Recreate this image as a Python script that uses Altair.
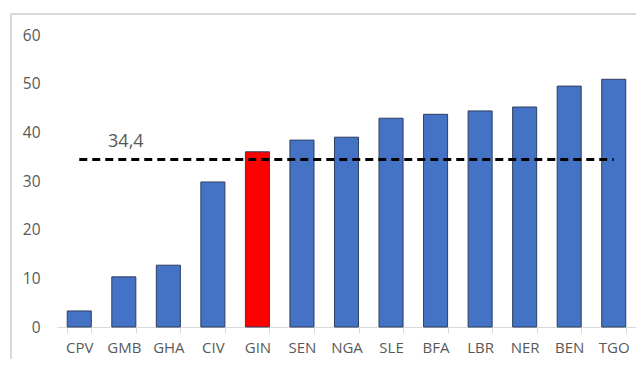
import altair as alt
import pandas as pd

countries = ["CPV", "GMB", "GHA", "CIV", "GIN", "SEN", "NGA", "SLE", "BFA", "LBR", "NER", "BEN", "TGO"]
values = [3.3, 10.3, 12.7, 29.8, 36.0, 38.4, 39.0, 42.9, 43.7, 44.4, 45.2, 49.5, 50.9]
highlight = "GIN"
average = 34.4
average_label = "34,4"
label_at = "GMB"

df = pd.DataFrame({"country": countries, "value": values,
                   "hl": [c == highlight for c in countries],
                   "avg": [average] * len(countries)})

x = alt.X("country:N", sort=countries, title=None,
          scale=alt.Scale(paddingInner=0.46, paddingOuter=0.23),
          axis=alt.Axis(labelAngle=0, labelFontSize=15, labelColor="#595959", labelFont="Open Sans",
                        domainColor="#d9d9d9", tickColor="#d9d9d9", tickSize=6, tickBand="extent",
                        labelPadding=7))
y = alt.Y("value:Q", title=None, scale=alt.Scale(domain=[0, 60], nice=False),
          axis=alt.Axis(values=[0, 10, 20, 30, 40, 50, 60], grid=False, domain=False, ticks=False,
                        labelFontSize=15.5, labelColor="#595959", labelFont="Open Sans", labelPadding=17))

border = alt.Chart(df).mark_rect(fill="transparent", stroke="#d9d9d9", strokeWidth=1.5).encode(
    x=alt.value(-46), x2=alt.value(700), y=alt.value(-21), y2=alt.value(400))

bars = alt.Chart(df).mark_bar(stroke="#2F3F5F", strokeWidth=1).encode(
    x=x, y=y,
    color=alt.Color("hl:N", scale=alt.Scale(domain=[False, True], range=["#4472C4", "#FF0000"]), legend=None))

line = alt.Chart(df).mark_line(color="black", strokeWidth=3, strokeDash=[8, 5]).encode(
    x=alt.X("country:N", sort=countries), y=alt.Y("avg:Q"))

text = alt.Chart(pd.DataFrame({"country": [label_at], "avg": [average], "label": [average_label]})).mark_text(
    fontSize=18, color="#595959", font="Open Sans", baseline="alphabetic", dy=-13, dx=2).encode(
    x=alt.X("country:N", sort=countries), y=alt.Y("avg:Q"), text="label:N")

chart = alt.layer(border, bars, line, text).properties(
    width=579, height=292, autosize=alt.AutoSizeParams(type="none"),
    padding={"left": 49, "top": 27, "right": 0, "bottom": 32}
).configure_view(stroke=None)

chart.save("out.html", embed_options={"renderer": "svg", "actions": False})
